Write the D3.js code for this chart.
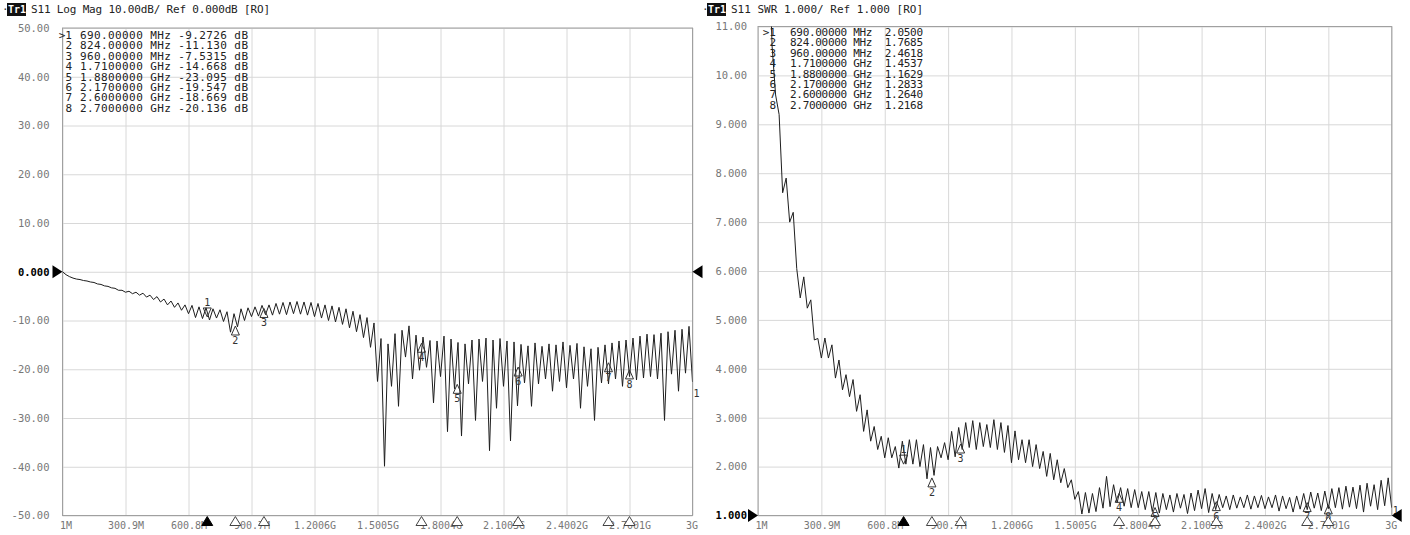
<!DOCTYPE html>
<html>
<head>
<meta charset="utf-8">
<script src="https://cdn.jsdelivr.net/npm/d3@7"></script>
<style>
  body { margin: 0; background: #fff; }
  svg { display: block; }
</style>
</head>
<body>
<svg id="chart" width="1410" height="535"></svg>
<script>
// sweep: 1 MHz .. 3 GHz, values at each ripple peak / trough
var sweepStartMHz = 1, sweepStopMHz = 3000;

var s11LogMag = [
  0.0, -0.6, -1.0, -1.3, -1.5, -1.6, -1.8, -1.9, -2.1, -2.2,
  -2.5, -2.6, -2.9, -3.0, -3.3, -3.4, -3.8, -3.8, -4.2, -4.0,
  -4.5, -4.2, -4.8, -4.4, -5.2, -4.8, -5.7, -5.1, -6.2, -5.6,
  -6.8, -6.0, -7.3, -6.4, -7.9, -6.8, -8.6, -6.9, -9.4, -7.2,
  -9.6, -7.4, -9.9, -7.6, -9.5, -7.8, -10.2, -8.2, -12.4, -8.6,
  -11.3, -7.6, -10.0, -7.4, -9.2, -7.2, -9.1, -6.9, -8.8, -6.8,
  -8.9, -6.5, -8.7, -6.3, -8.8, -6.2, -8.6, -6.1, -8.7, -6.2,
  -8.9, -6.3, -9.2, -6.5, -9.5, -6.8, -10.0, -7.0, -10.3, -7.3,
  -10.8, -7.6, -11.5, -8.1, -12.3, -8.8, -13.5, -9.4, -15.5, -10.5,
  -22.5, -13.7, -39.9, -14.8, -23.5, -12.7, -27.6, -12.0, -17.5, -11.1,
  -22.0, -13.0, -20.2, -13.4, -19.6, -14.1, -26.9, -14.2, -21.5, -13.2,
  -32.8, -13.8, -24.0, -14.5, -33.7, -14.8, -23.0, -14.0, -30.5, -13.8,
  -22.5, -13.6, -36.7, -14.0, -28.0, -13.7, -23.5, -14.2, -34.7, -14.4,
  -27.5, -14.9, -22.8, -15.2, -27.6, -14.6, -23.0, -15.3, -22.0, -14.8,
  -24.5, -15.0, -22.5, -14.4, -23.8, -15.1, -22.0, -14.7, -28.0, -15.4,
  -23.5, -15.8, -30.5, -15.5, -22.8, -15.0, -23.0, -14.6, -22.0, -14.2,
  -23.5, -14.0, -21.5, -13.6, -22.2, -13.2, -21.8, -12.8, -21.5, -12.9,
  -22.0, -12.6, -30.5, -12.3, -21.0, -12.0, -24.5, -11.8, -20.8, -11.2,
  -22.6
];

var s11Swr = [
  60, 35, 20, 13, 10.6, 9.6, 9.2, 7.6, 7.9, 7.0,
  7.2, 6.05, 5.45, 5.88, 5.24, 5.41, 4.59, 4.62, 4.22, 4.63,
  4.22, 4.49, 3.81, 4.18, 3.57, 3.88, 3.43, 3.78, 3.13, 3.47,
  2.72, 3.16, 2.52, 2.82, 2.35, 2.62, 2.18, 2.59, 2.18, 2.41,
  1.97, 2.52, 2.05, 2.55, 2.05, 2.55, 2.0, 2.45, 1.75, 2.39,
  1.82, 2.41, 2.18, 2.49, 2.14, 2.72, 2.2, 2.8, 2.35, 2.9,
  2.39, 2.94, 2.35, 2.9, 2.41, 2.86, 2.39, 2.96, 2.35, 2.9,
  2.29, 2.84, 2.08, 2.73, 2.14, 2.55, 2.08, 2.55, 2.0, 2.45,
  1.96, 2.31, 1.8, 2.27, 1.73, 2.14, 1.67, 1.96, 1.57, 1.73,
  1.33, 1.49, 1.03, 1.47, 1.05, 1.45, 1.08, 1.57, 1.15, 1.80,
  1.18, 1.63, 1.26, 1.57, 1.19, 1.55, 1.16, 1.53, 1.16, 1.49,
  1.12, 1.49, 1.08, 1.47, 1.05, 1.45, 1.12, 1.42, 1.07, 1.45,
  1.15, 1.43, 1.04, 1.46, 1.10, 1.52, 1.14, 1.55, 1.06, 1.45,
  1.12, 1.43, 1.16, 1.40, 1.12, 1.42, 1.15, 1.38, 1.16, 1.42,
  1.13, 1.40, 1.16, 1.41, 1.14, 1.38, 1.16, 1.42, 1.09, 1.40,
  1.14, 1.37, 1.07, 1.40, 1.13, 1.45, 1.12, 1.48, 1.15, 1.46,
  1.10, 1.50, 1.14, 1.55, 1.16, 1.57, 1.13, 1.60, 1.17, 1.58,
  1.14, 1.62, 1.07, 1.66, 1.19, 1.63, 1.12, 1.72, 1.20, 1.77,
  1.16
];

var markerNo = [1, 2, 3, 4, 5, 6, 7, 8];
var markerFreqMHz = [690, 824, 960, 1710, 1880, 2170, 2600, 2700];
var markerLogMag = [-9.2726, -11.130, -7.5315, -14.668, -23.095, -19.547, -18.669, -20.136];
var markerSwr = [2.0500, 1.7685, 2.4618, 1.4537, 1.1629, 1.2833, 1.2640, 1.2168];

var freqTicks = [1, 300.9, 600.8, 900.7, 1200.6, 1500.5, 1800.4, 2100.3, 2400.2, 2700.1, 3000];
var freqTickLabels = ["1M", "300.9M", "600.8M", "900.7M", "1.2006G", "1.5005G", "1.8004G", "2.1003G", "2.4002G", "2.7001G", "3G"];

var logMagTicks = [50, 40, 30, 20, 10, 0, -10, -20, -30, -40, -50];
var logMagTickLabels = ["50.00", "40.00", "30.00", "20.00", "10.00", "0.000", "-10.00", "-20.00", "-30.00", "-40.00", "-50.00"];
var swrTicks = [11, 10, 9, 8, 7, 6, 5, 4, 3, 2, 1];
var swrTickLabels = ["11.00", "10.00", "9.000", "8.000", "7.000", "6.000", "5.000", "4.000", "3.000", "2.000", "1.000"];

var mono = "'DejaVu Sans Mono', 'Liberation Mono', monospace";

function fmtFreq(f) {
  return f < 1000 ? f.toFixed(5) + " MHz" : (f / 1000).toFixed(7) + " GHz";
}

var svg = d3.select("#chart");
svg.append("rect").attr("width", 1410).attr("height", 535).attr("fill", "#fff");

var panels = [
  { left: 62.5, right: 692.5, top: 28, bottom: 515.5, yDomain: [-50, 50],
    ticks: logMagTicks, labels: logMagTickLabels, ref: 0, trace: s11LogMag, mVals: markerLogMag, unit: " dB",
    hx: 2, head: "S11 Log Mag 10.00dB/ Ref 0.000dB [RO]", headEnd: 270, pad: 13,
    numX: 72, rowX: 80, rowEnd: 248, endDy: 15 },
  { left: 758, right: 1391.7, top: 26.5, bottom: 515.5, yDomain: [1, 11],
    ticks: swrTicks, labels: swrTickLabels, ref: 1, trace: s11Swr, mVals: markerSwr, unit: "",
    hx: 702, head: "S11 SWR 1.000/ Ref 1.000 [RO]", headEnd: 923, pad: 11,
    numX: 776, rowX: 790, rowEnd: 923, endDy: 6 }
];

panels.forEach(function (p, k) {
  var x = d3.scaleLinear().domain([sweepStartMHz, sweepStopMHz]).range([p.left, p.right]);
  var y = d3.scaleLinear().domain(p.yDomain).range([p.bottom, p.top]);
  var w = p.right - p.left, h = p.bottom - p.top;
  var n = p.trace.length;
  var freqAt = function (i) { return sweepStartMHz + i * (sweepStopMHz - sweepStartMHz) / (n - 1); };

  // horizontal grid + level labels
  var gy = svg.append("g")
      .attr("transform", "translate(" + p.left + ",0)")
      .call(d3.axisLeft(y).tickValues(p.ticks).tickSize(-w).tickPadding(p.pad)
        .tickFormat(function (d, i) { return p.labels[i]; }));
  gy.select(".domain").remove();
  gy.attr("font-family", mono).attr("font-size", 10.5);
  gy.selectAll(".tick line").attr("stroke", "#d8d8d8");
  gy.selectAll(".tick text").attr("fill", "#777");
  gy.selectAll(".tick").filter(function (d) { return d === p.ref; })
    .select("text").attr("fill", "#000").attr("font-weight", "bold");

  // vertical grid + frequency labels
  var gx = svg.append("g")
      .attr("transform", "translate(0," + p.bottom + ")")
      .call(d3.axisBottom(x).tickValues(freqTicks).tickSize(-h).tickPadding(6)
        .tickFormat(function (d, i) { return freqTickLabels[i]; }));
  gx.select(".domain").remove();
  gx.attr("font-family", mono).attr("font-size", 10);
  gx.selectAll(".tick line").attr("stroke", "#d8d8d8");
  gx.selectAll(".tick text").attr("fill", "#777");
  gx.selectAll(".tick text").filter(function (d, i) { return i === 0; })
    .attr("text-anchor", "start").attr("dx", -3);
  gx.selectAll(".tick text").filter(function (d, i) { return i === freqTicks.length - 1; })
    .attr("text-anchor", "end").attr("dx", 5);

  // frame
  svg.append("rect")
    .attr("x", p.left).attr("y", p.top).attr("width", w).attr("height", h)
    .attr("fill", "none").attr("stroke", "#a0a0a0").attr("stroke-width", 1);

  // trace
  svg.append("clipPath").attr("id", "clip" + k)
    .append("rect").attr("x", p.left).attr("y", p.top).attr("width", w).attr("height", h);
  var line = d3.line()
    .x(function (d, i) { return x(freqAt(i)); })
    .y(function (d) { return y(d); });
  svg.append("path").datum(p.trace)
    .attr("d", line)
    .attr("clip-path", "url(#clip" + k + ")")
    .attr("fill", "none")
    .attr("stroke", "#1e1e1e")
    .attr("stroke-width", 1);

  // trace number at the end
  svg.append("text")
    .attr("x", x(sweepStopMHz) + 1)
    .attr("y", y(p.trace[n - 1]) + p.endDy)
    .attr("font-family", mono).attr("font-size", 10).attr("fill", "#333")
    .text("1");

  // reference level arrows
  var yr = y(p.ref);
  svg.append("path")
    .attr("d", "M" + (p.left - 10) + "," + (yr - 6.5) + "L" + p.left + "," + yr + "L" + (p.left - 10) + "," + (yr + 6.5) + "Z")
    .attr("fill", "#000");
  svg.append("path")
    .attr("d", "M" + (p.right + 10) + "," + (yr - 6.5) + "L" + p.right + "," + yr + "L" + (p.right + 10) + "," + (yr + 6.5) + "Z")
    .attr("fill", "#000");

  // markers on the trace
  var mk = svg.append("g").attr("font-family", mono).attr("font-size", 10).attr("fill", "#333");
  markerNo.forEach(function (m, j) {
    var mx = x(markerFreqMHz[j]), my = y(p.mVals[j]);
    if (j === 0) {
      mk.append("path").attr("d", "M" + mx + "," + my + "l-4,-9h8z")
        .attr("fill", "none").attr("stroke", "#333");
      mk.append("text").attr("x", mx).attr("y", my - 11).attr("text-anchor", "middle").text(m);
    } else {
      mk.append("path").attr("d", "M" + mx + "," + my + "l-4,9h8z")
        .attr("fill", "none").attr("stroke", "#333");
      // keep the number clear of the frequency labels
      mk.append("text").attr("x", mx).attr("y", Math.min(my + 18, p.bottom + 4))
        .attr("text-anchor", "middle").text(m);
    }
    // marker position flags on the frequency axis
    svg.append("path")
      .attr("d", "M" + mx + "," + (p.bottom + 1) + "l-5.5,9h11z")
      .attr("fill", j === 0 ? "#000" : "#fff")
      .attr("stroke", j === 0 ? "#000" : "#444")
      .attr("stroke-width", 1);
  });

  // marker table
  var tb = svg.append("g").attr("font-family", mono).attr("font-size", 11).attr("fill", "#222");
  markerNo.forEach(function (m, j) {
    var ty = 39 + j * 10.4 - (k === 1 ? 3 : 0);
    tb.append("text").attr("x", p.numX).attr("y", ty).attr("text-anchor", "end")
      .text((j === 0 ? ">" : "") + m);
    var valTxt = p.mVals[j].toPrecision(5);
    if (k === 1) valTxt = " " + valTxt;
    tb.append("text").attr("x", p.rowX).attr("y", ty)
      .attr("xml:space", "preserve").style("white-space", "pre")
      .attr("textLength", p.rowEnd - p.rowX).attr("lengthAdjust", "spacing")
      .text(fmtFreq(markerFreqMHz[j]) + " " + valTxt + p.unit);
  });

  // header line
  var hd = svg.append("g").attr("font-family", mono).attr("font-size", 11);
  hd.append("text").attr("x", p.hx).attr("y", 13).attr("fill", "#333").text("\u00b7");
  hd.append("rect").attr("x", p.hx + 5).attr("y", 3).attr("width", 19).attr("height", 13).attr("fill", "#111");
  hd.append("text").attr("x", p.hx + 6).attr("y", 13).attr("fill", "#fff").attr("font-weight", "bold")
    .attr("font-size", 10).text("Tr1");
  hd.append("text").attr("x", p.hx + 29).attr("y", 13).attr("fill", "#222")
    .attr("xml:space", "preserve").style("white-space", "pre")
    .attr("textLength", p.headEnd - p.hx - 29).attr("lengthAdjust", "spacing")
    .text(p.head);
});
</script>
</body>
</html>
